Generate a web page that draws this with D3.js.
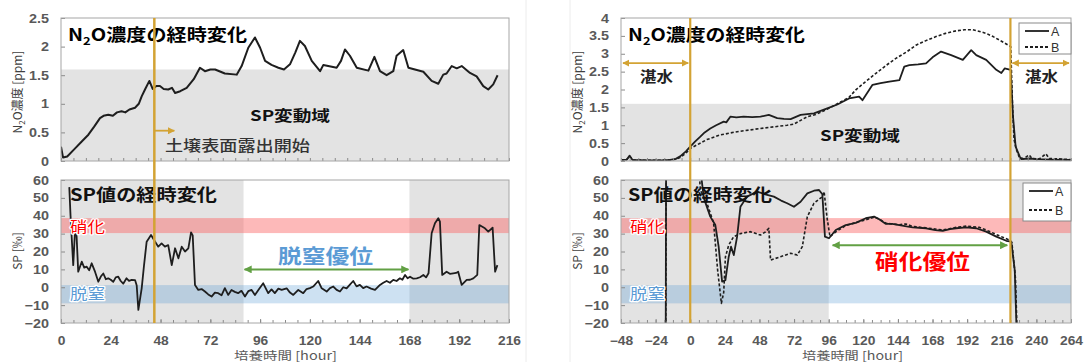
<!DOCTYPE html>
<html><head><meta charset="utf-8">
<script src="https://cdn.jsdelivr.net/npm/d3@7"></script>
<style>
body{margin:0;background:#fff;}
svg{display:block;}
</style></head><body>
<svg id="c" width="1085" height="362"></svg>
<script>
// ---------------- DATA ----------------
const hoursLeftTicks = [0,24,48,72,96,120,144,168,192,216];
const hoursRightTicks = [-48,-24,0,24,48,72,96,120,144,168,192,216,240,264];
const n2oLeftTicks = [0,0.5,1,1.5,2,2.5];
const n2oRightTicks = [0,0.5,1,1.5,2,2.5,3,3.5,4];
const spTicks = [-20,-10,0,10,20,30,40,50,60];

// left experiment: N2O concentration [ppm] (hour, value)
const n2oLeft = [[0,0.25],[1,0.06],[3,0.08],[6.8,0.22],[10,0.34],[13.2,0.46],[16,0.6],[18.8,0.75],[20.5,0.79],[22.8,0.81],[25,0.79],[27,0.85],[29.2,0.87],[31,0.85],[33,0.9],[35.7,0.93],[37.5,1.0],[38.9,1.13],[40.5,1.25],[42.6,1.40],[44.2,1.26],[46,1.31],[47.7,1.31],[49.5,1.26],[51.7,1.25],[53.5,1.28],[55,1.19],[57.5,1.22],[60.6,1.28],[64,1.43],[67,1.63],[69.4,1.57],[72,1.60],[74.3,1.60],[79,1.53],[84.7,1.51],[87.1,1.66],[90.3,1.98],[93.5,2.16],[96,1.98],[98.4,1.75],[101.5,1.68],[104.8,1.63],[107.5,1.60],[110.4,1.69],[113,1.9],[115.2,2.10],[117.6,2.01],[120.9,1.75],[124.9,1.57],[126.5,1.68],[132.9,1.63],[135,1.75],[136.9,1.95],[139.3,1.84],[142.6,1.63],[148.2,1.58],[151.1,1.82],[153.8,1.57],[157,1.50],[160.2,1.57],[161.8,1.84],[165,1.94],[167.5,1.63],[174.7,1.56],[178.7,1.40],[181.9,1.35],[184.3,1.51],[185.9,1.53],[188.4,1.66],[190.8,1.62],[193.2,1.66],[197.2,1.54],[200.4,1.48],[203.6,1.31],[206,1.25],[208.4,1.34],[210.5,1.50]];

// left experiment: SP [permil]
const spLeft = [[4,56],[4.6,40],[5.1,29],[5.9,12.4],[6.7,30.3],[7.5,29],[8.3,8.7],[10,14.3],[11.2,11],[12.4,11.5],[13.6,9.5],[14.8,13.4],[16.4,8.7],[18,3.1],[19.2,6],[20.4,7.7],[21.6,4.5],[22.8,5],[24,4.2],[25.2,3],[26.4,5.5],[27.6,5.9],[28.8,3.5],[30,2],[31.6,5],[32.8,3.6],[34.1,4.1],[35.7,4],[36.5,1],[37.3,-12.7],[38.9,-0.6],[40,12],[41.3,25.5],[43.4,29.2],[45.3,25.6],[46.9,22.7],[48.5,24.5],[50.1,22.7],[51.7,23.6],[53.4,12.4],[55,21.8],[56.6,16.2],[58.2,22.7],[59.8,20],[61.4,21.8],[62.7,30.7],[63.5,29],[64.6,1.3],[66.2,-1.5],[67.8,-1],[69.4,-2.4],[71,-4],[72.6,-5.2],[74.2,-3],[75.8,-3.3],[77.4,-4.5],[79,-0.5],[80.6,-4.3],[82.2,-1.5],[83.8,-2.6],[85.4,-3.3],[87,-2],[88.7,-5.2],[90.3,-2.2],[91.9,-1.5],[93.5,-4.3],[95.5,-1],[97.5,2.2],[99.9,-3.3],[101.5,-1.2],[103.1,-3.3],[104.8,-0.8],[106.4,-1.5],[108.8,-0.6],[110.4,-3],[112,-4.3],[114.4,-1.5],[116.8,-3.3],[118.4,-1],[120,-0.5],[121.6,0.4],[124,3.5],[125.7,-0.6],[128.1,-2.4],[129.7,-0.5],[131.3,0.4],[132.9,-1.5],[134.5,-2.4],[136.1,0],[137.7,-0.6],[139.3,1.5],[140.9,3.5],[142.5,0.5],[144.1,1.3],[145.7,-0.5],[147.3,0.4],[149.5,-0.8],[151.4,-1.5],[153.8,1.3],[155.4,2.5],[157,3.5],[158.6,2.5],[160.2,4.1],[161.8,3.5],[163.4,5],[164.6,4.2],[165.9,6.9],[167.1,5],[168.3,5.9],[169.9,4.8],[171.5,5],[173.1,5.6],[174.7,6.9],[176,5.5],[177.2,7.8],[178.7,30.2],[180.3,35.8],[181.9,38.6],[182.7,36.7],[183.8,6.9],[185.9,8.7],[187.5,7.5],[189.1,7.8],[190.5,8],[191.5,8.7],[193.2,1.3],[195.6,4.1],[197.2,4.2],[198.8,5],[200.7,6.9],[201.7,34.8],[204.4,33],[206,31.1],[208.1,33.3],[209.3,8.7],[210.4,12.4]];

// right experiment: N2O [ppm], series A and B
const n2oRightA = [[-48,0.03],[-44,0.04],[-42,0.15],[-40,0.03],[-30,0.02],[-20,0.02],[-14,0.03],[-10,0.06],[-7,0.13],[-3,0.27],[0,0.4],[3.5,0.55],[7,0.68],[10,0.8],[13.9,0.91],[18,1.0],[23.2,1.10],[25,1.08],[27.8,1.24],[32,1.22],[37,1.24],[43,1.23],[48.7,1.24],[54.5,1.29],[60.3,1.2],[65,1.18],[69.6,1.17],[76.5,1.29],[85.8,1.33],[95,1.47],[102,1.58],[110.1,1.75],[117.1,1.80],[119.4,1.70],[126.4,2.13],[132,2.18],[138,2.22],[145,2.26],[148.4,2.64],[151.9,2.68],[158,2.70],[163.5,2.73],[168,2.9],[173.9,3.06],[180.9,2.96],[189,2.83],[194.8,3.10],[198.3,2.96],[205.2,2.83],[212.2,2.55],[215.7,2.46],[218,2.59],[222.2,2.55],[223.8,1.24],[225.6,0.4],[228.4,0.13],[229.6,0.05],[235,0.07],[240,0.05],[250,0.04],[264,0.03]];
const n2oRightB = [[-48,0.03],[-44,0.04],[-42,0.13],[-40,0.03],[-30,0.02],[-20,0.02],[-14,0.03],[-10,0.05],[-7,0.1],[-3,0.22],[0,0.35],[4.6,0.45],[11.6,0.6],[20.9,0.73],[32.5,0.82],[48.7,0.91],[67.2,1.0],[71.8,1.03],[81.2,1.24],[87,1.3],[95,1.45],[102,1.6],[110.1,1.78],[114.8,1.99],[121,2.2],[128.7,2.45],[135,2.65],[142.6,2.87],[150,3.05],[156.5,3.24],[163,3.36],[170.4,3.48],[177,3.57],[184.3,3.64],[190,3.67],[195.9,3.67],[200,3.63],[205.2,3.57],[210,3.48],[214.5,3.38],[218,3.3],[222.2,3.20],[223.5,1.5],[224.5,0.6],[226.3,0.3],[228,0.12],[231,0.06],[235,0.17],[237,0.07],[242,0.06],[246.6,0.2],[249,0.07],[255,0.06],[264,0.04]];

// right experiment: SP [permil], series A and B
const spRightA = [[-17,-30],[-16.7,80],[5,80],[9.4,50],[13.9,39.5],[17.4,34.8],[19.7,22.7],[22.1,3.1],[24.4,4],[26.7,17.1],[28.3,22.7],[30.2,18],[32.5,28.3],[34.8,45],[39.4,50.7],[46.4,53.5],[52,52],[58,50.7],[63,48.5],[67.2,47],[71.9,45],[76.5,47.8],[81.2,52.5],[85.8,54],[89.3,54.4],[91.6,52],[93.4,28.3],[96.2,27.4],[100.9,32],[107.8,34.8],[114.8,36],[121.7,38.6],[127.5,39.5],[131,38],[135.7,35.4],[140,35.5],[145,34.8],[150,34],[154.2,33.5],[163.5,33],[170,32],[175.1,31.6],[180,32.5],[184.3,33],[191.3,33.5],[198.3,33],[205.2,31.1],[212.2,28.3],[219.1,26],[222.6,25.5],[225,9.6],[226.5,-30]];
const spRightB = [[-17,-30],[-16.6,80],[5,80],[7,54.4],[11.6,47],[16.2,36],[19,9.6],[21.6,-9],[23.2,-3],[24.4,17],[26.7,23.6],[30.1,28.3],[34.8,30],[41.7,31.1],[48.7,29.2],[52.2,31],[54.5,33],[55.7,15.2],[62.6,17.1],[69.6,19],[74.2,18],[77.7,22.7],[81.2,39.5],[85.8,47],[91.6,50.7],[92.8,53.5],[95,38],[96.9,28.3],[100.9,31],[107.8,34.5],[114.8,36.2],[121.7,37.7],[127.5,39.2],[131,38.2],[135.7,35.8],[145,35],[149.6,35.4],[154.2,34],[163.5,33.2],[175.1,32],[184.3,33.5],[191.3,34.2],[200.6,33.5],[205.2,32],[214.5,28.7],[221.4,26.4],[223,25],[225.5,5],[226.8,-30]];

// reference ranges
const spVariationRange = [0, 1.6];      // SP変動域 [ppm]
const nitrificationBand = [30.3, 38.7];  // 硝化
const denitrificationBand = [-9, 1.2];   // 脱窒
const leftShadedHours = [[0,88],[168,216]];
const rightShadedHours = [[-48,96],[222,264]];
const leftEventHour = 45;                // 土壌表面露出開始
const rightEventHours = [0, 222];        // 湛水 boundaries
const denitDominant = {range:[88,168], sp:10};
const nitrDominant = {range:[98,220.5], sp:23.5};

// ---------------- DRAW ----------------
const svg = d3.select('#c');
const JP = '"Noto Sans CJK JP","Noto Sans",sans-serif';
const NUM = '"Liberation Sans","Noto Sans",sans-serif';
const ORANGE = '#d3a334', GREEN = '#62a044', GRAY_BG = '#e3e3e3';

const xL = d3.scaleLinear().domain([0,216]).range([61,509]);
const xR = d3.scaleLinear().domain([-48,264]).range([621,1071]);
const yNL = d3.scaleLinear().domain([0,2.5]).range([161,18]);
const yNR = d3.scaleLinear().domain([0,4]).range([161,18]);
const ySL = d3.scaleLinear().domain([-20,60]).range([323,180]);
const ySR = ySL.copy();

// separators
[526,570].forEach(x=>svg.append('line').attr('x1',x).attr('x2',x).attr('y1',0).attr('y2',362).attr('stroke','#ececec'));

const defs = svg.append('defs');
function marker(id,color){
  defs.append('marker').attr('id',id).attr('viewBox','0 0 10 10').attr('refX',9).attr('refY',5)
   .attr('markerWidth',4).attr('markerHeight',4).attr('orient','auto-start-reverse')
   .append('path').attr('d','M0,0L10,5L0,10z').attr('fill',color);
}
marker('mo',ORANGE); marker('mg',GREEN);

let clipN=0;
function panel(x,y,opts){
  const g = svg.append('g');
  const [x0,x1]=x.range(), [y1,y0]=y.range();
  g.append('rect').attr('x',x0).attr('y',y0).attr('width',x1-x0).attr('height',y1-y0).attr('fill','#fff');
  (opts.shade||[]).forEach(s=>g.append('rect').attr('x',x(s[0])).attr('width',x(s[1])-x(s[0])).attr('y',y0).attr('height',y1-y0).attr('fill',GRAY_BG));
  if(opts.hband) g.append('rect').attr('x',x0).attr('width',x1-x0).attr('y',y(opts.hband[1])).attr('height',y(opts.hband[0])-y(opts.hband[1])).attr('fill',GRAY_BG);
  if(opts.sp){
    g.append('rect').attr('x',x0).attr('width',x1-x0).attr('y',y(nitrificationBand[1])).attr('height',y(nitrificationBand[0])-y(nitrificationBand[1])).attr('fill','rgba(250,100,100,0.45)');
    g.append('rect').attr('x',x0).attr('width',x1-x0).attr('y',y(denitrificationBand[1])).attr('height',y(denitrificationBand[0])-y(denitrificationBand[1])).attr('fill','rgba(91,155,213,0.3)');
  }
  const id='cp'+(clipN++);
  defs.append('clipPath').attr('id',id).append('rect').attr('x',x0).attr('y',y0).attr('width',x1-x0).attr('height',y1-y0);
  const dataG = g.append('g').attr('clip-path',`url(#${id})`);
  // axes
  const ya = g.append('g').attr('transform',`translate(${x0},0)`)
    .call(d3.axisLeft(y).tickValues(opts.yticks).tickSizeInner(-4).tickSizeOuter(0).tickPadding(12).tickFormat(d3.format('~g')));
  ya.select('.domain').remove();
  ya.selectAll('line').attr('stroke','#8a8a8a');
  ya.selectAll('text').attr('font-family',NUM).attr('font-weight','bold').attr('font-size',12.5).attr('fill','#595959');
  const [d0,d1]=x.domain();
  const minor = d3.range(d0,d1+0.1,6);
  const xa = g.append('g').attr('transform',`translate(0,${y1})`)
    .call(d3.axisBottom(x).tickValues(minor).tickSizeInner(-3).tickSizeOuter(0).tickFormat(''));
  xa.select('.domain').remove(); xa.selectAll('line').attr('stroke','#8a8a8a');
  if(opts.xticks){
    const xb = g.append('g').attr('transform',`translate(0,${y1})`)
      .call(d3.axisBottom(x).tickValues(opts.xticks).tickSizeInner(-4).tickSizeOuter(0).tickPadding(13));
    xb.select('.domain').remove(); xb.selectAll('line').attr('stroke','#8a8a8a');
    xb.selectAll('text').attr('font-family',NUM).attr('font-weight','bold').attr('font-size',12).attr('fill','#595959').classed('st',true);
  }
  ya.selectAll('text').classed('st',true);
  return {g,dataG,x0,x1,y0,y1};
}

function line(parent,x,y,data,dash,w){
  parent.append('path').datum(data)
    .attr('d',d3.line().x(d=>x(d[0])).y(d=>y(d[1])))
    .attr('fill','none').attr('stroke','#1e1e1e').attr('stroke-width',w||1.8)
    .attr('stroke-linejoin','round').attr('stroke-dasharray',dash||null);
}

function txt(parent,x,y,s,o){
  const t = parent.append('text').attr('x',x).attr('y',y).attr('font-family',o.font||JP)
   .attr('font-size',o.size).attr('font-weight',o.weight||'normal').attr('fill',o.fill||'#000').text(s);
  if(o.len) t.attr('textLength',o.len).attr('lengthAdjust','spacingAndGlyphs');
  if(o.anchor) t.attr('text-anchor',o.anchor);
  if(o.halo) t.attr('stroke','#fff').attr('stroke-width',o.halo).attr('paint-order','stroke').attr('stroke-linejoin','round');
  return t;
}
function n2oTitle(parent,x,y,len){
  const t = parent.append('text').attr('x',x).attr('y',y).attr('font-family',JP).attr('font-size',17).attr('font-weight','bold')
    .attr('textLength',len).attr('lengthAdjust','spacingAndGlyphs');
  t.append('tspan').text('N');
  t.append('tspan').attr('dy',4).attr('font-size',11).text('2');
  t.append('tspan').attr('dy',-4).text('O濃度の経時変化');
}

// ---- Left top ----
const LT = panel(xL,yNL,{hband:spVariationRange,yticks:n2oLeftTicks});
line(LT.dataG,xL,yNL,n2oLeft,null,2);
svg.append('rect').attr('x',LT.x0).attr('y',LT.y0).attr('width',LT.x1-LT.x0).attr('height',LT.y1-LT.y0).attr('fill','none').attr('stroke','#a6a6a6');
n2oTitle(svg,68,41,179);
txt(svg,250,121,'SP変動域',{size:15,weight:'bold',len:80,fill:'#111'});
txt(svg,165,151,'土壌表面露出開始',{size:15,weight:500,len:145,fill:'#333'});

// ---- Left bottom ----
const LB = panel(xL,ySL,{shade:leftShadedHours,sp:true,yticks:spTicks,xticks:hoursLeftTicks});
line(LB.dataG,xL,ySL,spLeft,null,1.8);
svg.append('rect').attr('x',LB.x0).attr('y',LB.y0).attr('width',LB.x1-LB.x0).attr('height',LB.y1-LB.y0).attr('fill','none').attr('stroke','#a6a6a6');
txt(svg,70,201,'SP値の経時変化',{size:17,weight:'bold',len:147,fill:'#111'});
txt(svg,70,232,'硝化',{size:15,len:35,fill:'#ff0000',halo:2.5});
txt(svg,70,299,'脱窒',{size:15,len:35,fill:'#5b9bd5',halo:2.5});
svg.append('line').attr('x1',xL(denitDominant.range[0])+1).attr('x2',xL(denitDominant.range[1])-1)
  .attr('y1',ySL(denitDominant.sp)).attr('y2',ySL(denitDominant.sp)).attr('stroke',GREEN).attr('stroke-width',2)
  .attr('marker-start','url(#mg)').attr('marker-end','url(#mg)');
txt(svg,278,264,'脱窒優位',{size:20,weight:'bold',len:95,fill:'#5b9bd5'});

// left event line + arrow
svg.append('line').attr('x1',xL(leftEventHour)).attr('x2',xL(leftEventHour)).attr('y1',18).attr('y2',323)
  .attr('stroke',ORANGE).attr('stroke-width',2.5);
svg.append('line').attr('x1',xL(leftEventHour)).attr('x2',xL(leftEventHour)+20).attr('y1',yNL(0.53)).attr('y2',yNL(0.53))
  .attr('stroke',ORANGE).attr('stroke-width',1.8).attr('marker-end','url(#mo)');

// ---- Right top ----
const RT = panel(xR,yNR,{hband:spVariationRange,yticks:n2oRightTicks});
line(RT.dataG,xR,yNR,n2oRightA,null,1.8);
line(RT.dataG,xR,yNR,n2oRightB,'3,2',1.6);
svg.append('rect').attr('x',RT.x0).attr('y',RT.y0).attr('width',RT.x1-RT.x0).attr('height',RT.y1-RT.y0).attr('fill','none').attr('stroke','#a6a6a6');
n2oTitle(svg,628,41,177);
txt(svg,820,141,'SP変動域',{size:15,weight:'bold',len:80,fill:'#111'});

// ---- Right bottom ----
const RB = panel(xR,ySR,{shade:rightShadedHours,sp:true,yticks:spTicks,xticks:hoursRightTicks});
line(RB.dataG,xR,ySR,spRightA,null,1.8);
line(RB.dataG,xR,ySR,spRightB,'3,2',1.6);
svg.append('rect').attr('x',RB.x0).attr('y',RB.y0).attr('width',RB.x1-RB.x0).attr('height',RB.y1-RB.y0).attr('fill','none').attr('stroke','#a6a6a6');
txt(svg,628,201,'SP値の経時変化',{size:17,weight:'bold',len:144,fill:'#111'});
txt(svg,630,232,'硝化',{size:15,len:35,fill:'#ff0000',halo:2.5});
txt(svg,630,299,'脱窒',{size:15,len:35,fill:'#5b9bd5',halo:2.5});
svg.append('line').attr('x1',xR(nitrDominant.range[0])+1).attr('x2',xR(nitrDominant.range[1])-1)
  .attr('y1',ySR(nitrDominant.sp)).attr('y2',ySR(nitrDominant.sp)).attr('stroke',GREEN).attr('stroke-width',2)
  .attr('marker-start','url(#mg)').attr('marker-end','url(#mg)');
txt(svg,875,269,'硝化優位',{size:21,weight:'bold',len:95,fill:'#ff0000'});

// right event lines + 湛水 arrows
rightEventHours.forEach(h=>svg.append('line').attr('x1',xR(h)).attr('x2',xR(h)).attr('y1',18).attr('y2',323)
  .attr('stroke',ORANGE).attr('stroke-width',2.2));
[[-48,rightEventHours[0]],[rightEventHours[1],264]].forEach(r=>{
  svg.append('line').attr('x1',xR(r[0])+2).attr('x2',xR(r[1])-2).attr('y1',yNR(2.74)).attr('y2',yNR(2.74))
   .attr('stroke',ORANGE).attr('stroke-width',1.8).attr('marker-start','url(#mo)').attr('marker-end','url(#mo)');
});
txt(svg,640,82,'湛水',{size:15,weight:'bold',len:33,fill:'#222'});
txt(svg,1025,82,'湛水',{size:15,weight:'bold',len:33,fill:'#222'});

// legends
function legend(x,y,w,h,gap){
  const g=svg.append('g');
  g.append('rect').attr('x',x).attr('y',y).attr('width',w).attr('height',h).attr('fill','#fff').attr('stroke','#8a8a8a');
  [['A',null],['B','3,2']].forEach((s,i)=>{
    const yy=y+8+i*gap;
    g.append('line').attr('x1',x+6).attr('x2',x+30).attr('y1',yy).attr('y2',yy).attr('stroke','#1e1e1e').attr('stroke-width',1.8).attr('stroke-dasharray',s[1]);
    txt(g,x+32,yy+4.5,s[0],{size:12.5,font:NUM,fill:'#333'});
  });
}
legend(1019,23,52,31,16);
legend(1023,183,48,38,19);

// axis titles
function ytitle(x,y,parts){
  const t=svg.append('text').attr('transform',`translate(${x},${y}) rotate(-90)`).attr('text-anchor','middle')
    .attr('font-family',JP).attr('font-size',12).attr('fill','#404040');
  parts.forEach(p=>{const s=t.append('tspan').text(p[0]); if(p[1]){s.attr('font-size',8).attr('dy',3);} if(p[2]) s.attr('dy',-3);});
}
ytitle(22,92,[['N'],['2',1],['O濃度 [ppm]',0,1]]);
ytitle(582,92,[['N'],['2',1],['O濃度 [ppm]',0,1]]);
ytitle(22,251,[['SP [‰]']]);
ytitle(582,251,[['SP [‰]']]);
txt(svg,234,360,'培養時間 [hour]',{size:11.5,len:103,fill:'#595959'});
txt(svg,802,360,'培養時間 [hour]',{size:11.5,len:101,fill:'#595959'});

// horizontal stretch of numeric tick labels (reference is slightly widened)
svg.selectAll('text.st').each(function(){
  const l=this.getComputedTextLength();
  this.setAttribute('textLength',l*1.15); this.setAttribute('lengthAdjust','spacingAndGlyphs');
});
</script>
</body></html>
